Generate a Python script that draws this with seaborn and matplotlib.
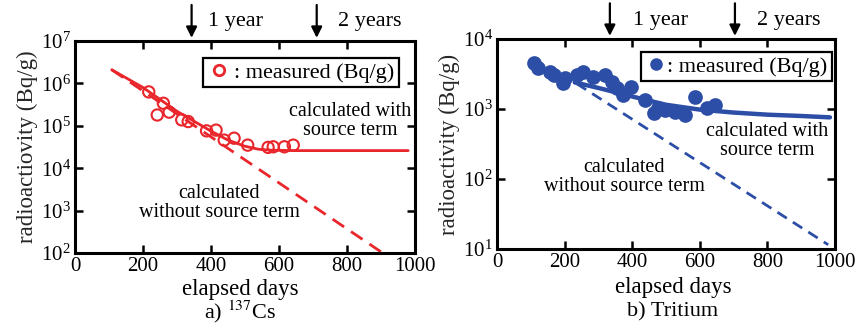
import matplotlib
matplotlib.use("Agg")
import matplotlib.pyplot as plt
import matplotlib.transforms as mtransforms
import pandas as pd
import seaborn as sns
from matplotlib.lines import Line2D
from matplotlib.ticker import FixedLocator, LogFormatterMathtext, NullLocator

# ---- 137Cs ----
cs_days = [217, 242, 260, 277, 314, 333, 387, 415, 439, 468, 508, 568, 583, 616, 642]
cs_meas = [6.3e5, 1.8e5, 3.4e5, 2.1e5, 1.38e5, 1.26e5, 7.6e4, 7.9e4, 4.6e4,
           5.1e4, 3.5e4, 3.1e4, 3.2e4, 3.2e4, 3.5e4]
cs_src_days = [108, 200, 300, 400, 450, 500, 540, 580, 650, 980]
cs_src_vals = [2.1e6, 8.0e5, 2.2e5, 7.5e4, 4.6e4, 3.3e4, 2.8e4, 2.65e4, 2.6e4, 2.6e4]
cs_nosrc_days = [108, 905]
cs_nosrc_vals = [2.1e6, 1.0e2]
cs_decades = [1e2, 1e3, 1e4, 1e5, 1e6, 1e7]

# ---- Tritium ----
h3_days = [109, 122, 157, 169, 196, 201, 236, 255, 285, 320, 339, 354, 372, 398,
           438, 466, 477, 497, 527, 556, 586, 620, 645]
h3_meas = [4500, 3800, 3400, 3100, 2330, 2750, 3100, 3400, 2900, 3100, 2450, 2000,
           1580, 2080, 1350, 870, 1030, 970, 915, 820, 1500, 1030, 1150]
h3_src_days = [230, 300, 400, 500, 600, 700, 800, 900, 985]
h3_src_vals = [2400, 2000, 1510, 1150, 980, 890, 830, 795, 760]
h3_nosrc_days = [236, 980]
h3_nosrc_vals = [2300, 11.5]
h3_decades = [1e1, 1e2, 1e3, 1e4]

x_ticks = [0, 200, 400, 600, 800, 1000]
year_marks = [343, 711]
year_marks_h3 = [334, 704]
year_labels = ["1 year", "2 years"]

RED = "#e8262c"
BLUE = "#2d4ea7"

sns.set_theme(style="ticks")
plt.rcParams["font.family"] = "serif"
plt.rcParams["font.serif"] = ["Liberation Serif", "DejaVu Serif"]
plt.rcParams["mathtext.fontset"] = "stix"
plt.rcParams["axes.edgecolor"] = "black"
plt.rcParams["text.color"] = "black"
plt.rcParams["xtick.color"] = "black"
plt.rcParams["ytick.color"] = "black"

fig = plt.figure(figsize=(8.57, 3.27), dpi=100)
ax1 = fig.add_axes([0.0875, 0.2263, 0.3967, 0.6483])
ax2 = fig.add_axes([0.5799, 0.2385, 0.3944, 0.6422])


def style_axes(ax, ylim, decades, ylabel):
    ax.set_yscale("log")
    ax.set_xlim(0, 1000)
    ax.set_ylim(*ylim)
    ax.xaxis.set_major_locator(FixedLocator(x_ticks))
    ax.yaxis.set_major_locator(FixedLocator(decades))
    ax.yaxis.set_major_formatter(LogFormatterMathtext())
    ax.yaxis.set_minor_locator(NullLocator())
    ax.tick_params(which="major", direction="in", top=True, right=True,
                   length=6, width=1.8, labelsize=15, pad=3)
    for sp in ax.spines.values():
        sp.set_linewidth(2.2)
        sp.set_visible(True)
    ax.set_xlabel("")
    ax.set_ylabel(ylabel, fontsize=16.5, labelpad=2)


def year_arrows(ax, marks, text_x):
    trans = mtransforms.blended_transform_factory(ax.transData, ax.transAxes)
    for xm, tx, lab in zip(marks, text_x, year_labels):
        ax.annotate("", xy=(xm, 1.015), xycoords=trans, xytext=(xm, 1.17),
                    textcoords=trans, annotation_clip=False,
                    arrowprops=dict(arrowstyle="-|>", color="black", lw=1.6,
                                    mutation_scale=16, shrinkA=0, shrinkB=0))
        ax.text(tx, 1.09, lab, transform=trans, ha="left", va="center",
                fontsize=16, clip_on=False)


# ---- panel a) 137Cs ----
cs_meas_df = pd.DataFrame({"day": cs_days, "val": cs_meas})
sns.lineplot(x=cs_src_days, y=cs_src_vals, ax=ax1, color=RED, lw=2.0)
sns.lineplot(x=cs_nosrc_days, y=cs_nosrc_vals, ax=ax1, color=RED, lw=2.0,
             dashes=False, linestyle=(0, (5, 3)))
sns.scatterplot(data=cs_meas_df, x="day", y="val", ax=ax1, marker="o", s=66,
                facecolor="none", edgecolor=RED, linewidth=1.5, zorder=3)
style_axes(ax1, (1e2, 1e7), cs_decades, "radioactiovity (Bq/g)")
year_arrows(ax1, year_marks, [391, 773])
ax1.text(0.809, 0.623, "calculated with\nsource term", transform=ax1.transAxes,
         ha="center", va="center", fontsize=14.5, linespacing=0.95)
ax1.text(0.424, 0.236, "calculated\nwithout source term", transform=ax1.transAxes,
         ha="center", va="center", fontsize=14.5, linespacing=0.95)
h1 = Line2D([], [], marker="o", ls="none", mfc="none", mec=RED, ms=7.5, mew=2.0)
leg1 = ax1.legend([h1], [": measured (Bq/g)"], loc="upper right",
                  bbox_to_anchor=(0.953, 0.92), borderaxespad=0, fontsize=16,
                  frameon=True, fancybox=False, framealpha=1, edgecolor="black",
                  handletextpad=0.2, handlelength=1.0, borderpad=0.2)
leg1.get_frame().set_linewidth(1.6)

# ---- panel b) Tritium ----
h3_meas_df = pd.DataFrame({"day": h3_days, "val": h3_meas})
sns.lineplot(x=h3_src_days, y=h3_src_vals, ax=ax2, color=BLUE, lw=3.2)
sns.lineplot(x=h3_nosrc_days, y=h3_nosrc_vals, ax=ax2, color=BLUE, lw=2.0,
             dashes=False, linestyle=(0, (4, 2.6)))
sns.scatterplot(data=h3_meas_df, x="day", y="val", ax=ax2, marker="o", s=112,
                color=BLUE, edgecolor=BLUE, linewidth=0, zorder=3)
style_axes(ax2, (1e1, 1e4), h3_decades, "radioactivity (Bq/g)")
year_arrows(ax2, year_marks_h3, [402, 769])
ax2.text(0.80, 0.514, "calculated with\nsource term", transform=ax2.transAxes,
         ha="center", va="center", fontsize=14.5, linespacing=0.95)
ax2.text(0.376, 0.343, "calculated\nwithout source term", transform=ax2.transAxes,
         ha="center", va="center", fontsize=14.5, linespacing=0.95)
h2 = Line2D([], [], marker="o", ls="none", color=BLUE, ms=8)
leg2 = ax2.legend([h2], [": measured (Bq/g)"], loc="upper right",
                  bbox_to_anchor=(0.991, 0.938), borderaxespad=0, fontsize=16,
                  frameon=True, fancybox=False, framealpha=1, edgecolor="black",
                  handletextpad=0.0, handlelength=1.0, borderpad=0.2)
leg2.get_frame().set_linewidth(1.6)

# axis titles and panel captions
fig.text(240 / 857, 1 - 289 / 327, "elapsed days", ha="center", va="center", fontsize=16.5)
fig.text(673 / 857, 1 - 288 / 327, "elapsed days", ha="center", va="center", fontsize=16.5)
fig.text(240 / 857, 1 - 312 / 327, r"a) $^{137}$Cs", ha="center", va="center", fontsize=16)
fig.text(673 / 857, 1 - 312 / 327, "b) Tritium", ha="center", va="center", fontsize=16)

fig.savefig("out.png", dpi=100)
